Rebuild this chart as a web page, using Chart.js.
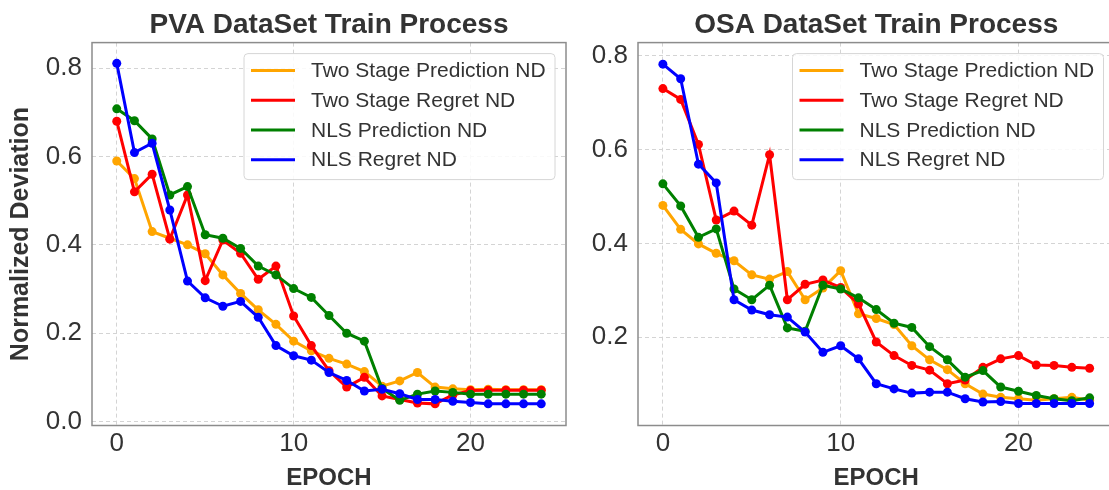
<!DOCTYPE html>
<html>
<head>
<meta charset="utf-8">
<script src="https://cdn.jsdelivr.net/npm/chart.js@4"></script>
<style>
  body { margin: 0; background: #fff; overflow: hidden; }
  .box { position: absolute; top: 0; height: 490px; }
  #leftBox { left: 0; width: 578px; }
  #rightBox { left: 578px; width: 541px; }
</style>
</head>
<body>
<div class="box" id="leftBox"><canvas id="pvaChart"></canvas></div>
<div class="box" id="rightBox"><canvas id="osaChart"></canvas></div>
<script>
// epochs and series
var epochs = [0, 1, 2, 3, 4, 5, 6, 7, 8, 9, 10, 11, 12, 13, 14, 15, 16, 17, 18, 19, 20, 21, 22, 23, 24];
var seriesNames = ['Two Stage Prediction ND', 'Two Stage Regret ND', 'NLS Prediction ND', 'NLS Regret ND'];
var seriesColors = ['#ffa500', '#ff0000', '#008000', '#0000ff'];

// PVA dataset
var pvaTwoStagePred = [0.59, 0.55, 0.43, 0.415, 0.40, 0.38, 0.332, 0.29, 0.253, 0.22, 0.182, 0.16, 0.143, 0.13, 0.113, 0.08, 0.092, 0.111, 0.078, 0.074, 0.072, 0.073, 0.072, 0.072, 0.072];
var pvaTwoStageRegret = [0.68, 0.52, 0.56, 0.413, 0.513, 0.319, 0.411, 0.381, 0.322, 0.352, 0.239, 0.172, 0.115, 0.078, 0.10, 0.058, 0.05, 0.042, 0.04, 0.06, 0.07, 0.071, 0.071, 0.071, 0.071];
var pvaNlsPred = [0.708, 0.681, 0.64, 0.513, 0.532, 0.423, 0.415, 0.392, 0.352, 0.332, 0.301, 0.281, 0.24, 0.20, 0.182, 0.075, 0.048, 0.062, 0.069, 0.066, 0.062, 0.062, 0.062, 0.062, 0.062];
var pvaNlsRegret = [0.811, 0.609, 0.63, 0.479, 0.318, 0.28, 0.261, 0.272, 0.236, 0.172, 0.149, 0.139, 0.111, 0.093, 0.069, 0.073, 0.063, 0.05, 0.05, 0.046, 0.043, 0.04, 0.04, 0.04, 0.04];

// OSA dataset
var osaTwoStagePred = [0.481, 0.43, 0.399, 0.379, 0.363, 0.333, 0.324, 0.34, 0.28, 0.305, 0.342, 0.25, 0.24, 0.227, 0.182, 0.152, 0.131, 0.101, 0.079, 0.072, 0.069, 0.066, 0.069, 0.072, 0.066];
var osaTwoStageRegret = [0.73, 0.707, 0.611, 0.45, 0.469, 0.439, 0.589, 0.28, 0.313, 0.322, 0.306, 0.271, 0.19, 0.161, 0.14, 0.13, 0.101, 0.109, 0.136, 0.154, 0.161, 0.141, 0.14, 0.136, 0.134];
var osaNlsPred = [0.527, 0.48, 0.413, 0.431, 0.303, 0.28, 0.311, 0.22, 0.213, 0.311, 0.303, 0.284, 0.259, 0.23, 0.221, 0.18, 0.152, 0.115, 0.129, 0.094, 0.085, 0.076, 0.069, 0.065, 0.071];
var osaNlsRegret = [0.782, 0.751, 0.569, 0.529, 0.28, 0.258, 0.248, 0.243, 0.211, 0.168, 0.182, 0.154, 0.101, 0.09, 0.081, 0.083, 0.083, 0.069, 0.062, 0.063, 0.059, 0.059, 0.059, 0.059, 0.059];

// tick labels
var xTicks = [0, 10, 20];
var pvaYTicks = [0.0, 0.2, 0.4, 0.6, 0.8];
var osaYTicks = [0.2, 0.4, 0.6, 0.8];

var FONT = '"Liberation Sans", Arial, sans-serif';
var TEXT = '#333333';

function makeDatasets(series) {
    return series.map(function (vals, i) {
        return {
            label: seriesNames[i],
            data: vals.map(function (v, j) { return { x: epochs[j], y: v }; }),
            borderColor: seriesColors[i],
            backgroundColor: seriesColors[i],
            pointBackgroundColor: seriesColors[i],
            pointBorderWidth: 0,
            pointRadius: 4.5,
            borderWidth: 3,
            tension: 0,
            order: series.length - i   // later series on top, like matplotlib
        };
    });
}

// frame around the plot area + legend box drawn inside it
var frameAndLegend = {
    id: 'frameAndLegend',
    afterDatasetsDraw: function (chart) {
        var ctx = chart.ctx, a = chart.chartArea;
        ctx.save();
        ctx.strokeStyle = '#8c8c8c';
        ctx.lineWidth = 1.5;
        ctx.strokeRect(a.left, a.top, a.right - a.left, a.bottom - a.top);

        var w = 311, h = 126;
        var bx = a.right - 11 - w, by = a.top + 11;
        ctx.beginPath();
        ctx.roundRect(bx, by, w, h, 4);
        ctx.fillStyle = 'rgba(255,255,255,0.85)';
        ctx.fill();
        ctx.strokeStyle = '#d6d6d6';
        ctx.lineWidth = 1;
        ctx.stroke();

        ctx.font = '21px ' + FONT;
        ctx.textBaseline = 'middle';
        for (var i = 0; i < seriesNames.length; i++) {
            var y = by + 17 + i * 29.7;
            ctx.strokeStyle = seriesColors[i];
            ctx.lineWidth = 3;
            ctx.beginPath();
            ctx.moveTo(bx + 7, y);
            ctx.lineTo(bx + 51, y);
            ctx.stroke();
            ctx.fillStyle = TEXT;
            ctx.fillText(seriesNames[i], bx + 67, y + 1);
        }
        ctx.restore();
    }
};

function makeChart(id, title, series, yMin, yMax, yTicks, yWidth, yTitle, padRight) {
    var ctx = document.getElementById(id);
    return new Chart(ctx, {
        type: 'line',
        data: { datasets: makeDatasets(series) },
        options: {
            responsive: true,
            maintainAspectRatio: false,
            animation: false,
            layout: { padding: { left: 0, top: 0, bottom: 0, right: padRight } },
            plugins: {
                legend: { display: false },
                tooltip: { enabled: false },
                title: {
                    display: true,
                    text: title,
                    fullSize: false,
                    color: TEXT,
                    font: { family: FONT, size: 28, weight: 'bold' },
                    padding: { top: 8, bottom: 1 }
                }
            },
            scales: {
                x: {
                    type: 'linear',
                    min: -1.4,
                    max: 25.4,
                    afterBuildTicks: function (s) { s.ticks = xTicks.map(function (v) { return { value: v }; }); },
                    afterFit: function (s) { s.height = 64.5; },
                    grid: { color: '#d4d4d4', lineWidth: 1, drawTicks: false },
                    border: { display: false, dash: [4, 3] },
                    ticks: {
                        color: TEXT,
                        padding: 3,
                        font: { family: FONT, size: 26 },
                        callback: function (v) { return v; }
                    },
                    title: {
                        display: true,
                        text: 'EPOCH',
                        color: TEXT,
                        font: { family: FONT, size: 24, weight: 'bold' },
                        padding: { top: 0, bottom: -3 }
                    }
                },
                y: {
                    type: 'linear',
                    min: yMin,
                    max: yMax,
                    afterBuildTicks: function (s) { s.ticks = yTicks.map(function (v) { return { value: v }; }); },
                    afterFit: function (s) { s.width = yWidth; },
                    grid: { color: '#d4d4d4', lineWidth: 1, drawTicks: false },
                    border: { display: false, dash: [4, 3] },
                    ticks: {
                        color: TEXT,
                        padding: 10,
                        font: { family: FONT, size: 26 },
                        callback: function (v) { return v.toFixed(1); }
                    },
                    title: {
                        display: !!yTitle,
                        text: yTitle || '',
                        color: TEXT,
                        font: { family: FONT, size: 25, weight: 'bold' },
                        padding: { top: 6, bottom: 0 }
                    }
                }
            }
        },
        plugins: [frameAndLegend]
    });
}

makeChart('pvaChart', 'PVA DataSet Train Process',
    [pvaTwoStagePred, pvaTwoStageRegret, pvaNlsPred, pvaNlsRegret],
    -0.009, 0.858, pvaYTicks, 92, 'Normalized Deviation', 12);

// right plot runs past the window edge, as in the reference
makeChart('osaChart', 'OSA DataSet Train Process',
    [osaTwoStagePred, osaTwoStageRegret, osaNlsPred, osaNlsRegret],
    0.012, 0.828, osaYTicks, 60, null, 0);
</script>
</body>
</html>
